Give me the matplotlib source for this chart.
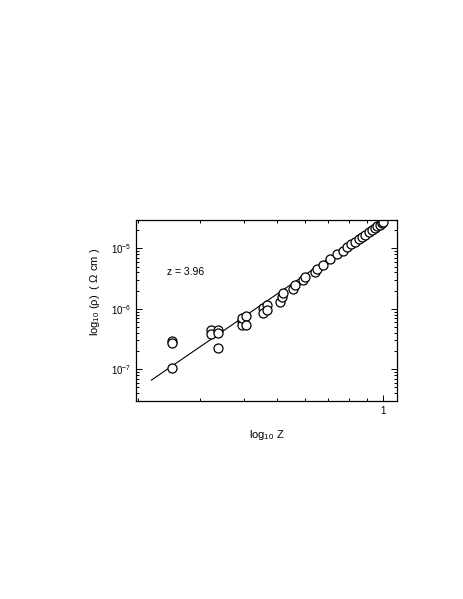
import numpy as np
import matplotlib
matplotlib.use("Agg")
import matplotlib.pyplot as plt
from matplotlib.ticker import LogLocator, FixedLocator, NullFormatter, FixedFormatter

plt.rcParams['font.family'] = ['Liberation Sans', 'DejaVu Sans']
plt.rcParams['mathtext.default'] = 'regular'

# data
z_vals = [0.25, 0.25, 0.25,
          0.323, 0.323, 0.338, 0.338, 0.338,
          0.395, 0.395, 0.397, 0.407, 0.407,
          0.456, 0.456, 0.468, 0.468,
          0.509, 0.514, 0.518,
          0.555, 0.562,
          0.593, 0.600,
          0.641, 0.648,
          0.676, 0.707, 0.739,
          0.772, 0.792, 0.813, 0.835, 0.854, 0.873, 0.892, 0.912,
          0.932, 0.949, 0.965, 0.982, 0.997, 1.0]
rho_vals = [2.94e-7, 2.69e-7, 1.05e-7,
            4.47e-7, 3.84e-7, 4.47e-7, 4.04e-7, 2.25e-7,
            6.3e-7, 5.4e-7, 6.97e-7, 7.6e-7, 5.4e-7,
            1.02e-6, 8.4e-7, 1.16e-6, 9.5e-7,
            1.31e-6, 1.55e-6, 1.8e-6,
            2.1e-6, 2.47e-6,
            2.99e-6, 3.4e-6,
            4.11e-6, 4.5e-6,
            5.3e-6, 6.58e-6, 8.05e-6,
            9.13e-6, 1.04e-5, 1.16e-5, 1.29e-5, 1.41e-5, 1.54e-5, 1.68e-5, 1.84e-5,
            2.0e-5, 2.17e-5, 2.31e-5, 2.45e-5, 2.59e-5, 2.69e-5]

# fitted power law rho = A * Z^z
fit_exponent = 3.96
fit_prefactor = 10 ** -4.56
fit_range = [0.218, 1.0]

fig = plt.figure(figsize=(4.63, 5.99), dpi=100)
ax = fig.add_axes([0.2937, 0.331, 0.5637, 0.3017])

zf = np.linspace(fit_range[0], fit_range[1], 50)
ax.plot(zf, fit_prefactor * zf ** fit_exponent, color='black', lw=0.8)
ax.plot(z_vals, rho_vals, 'o', ms=6.5, mfc='white', mec='black', mew=0.9)

ax.set_xscale('log')
ax.set_yscale('log')
ax.set_xlim(0.197, 1.099)
ax.set_ylim(10 ** -7.52, 10 ** -4.532)

ax.xaxis.set_major_locator(FixedLocator([1.0]))
ax.xaxis.set_major_formatter(FixedFormatter(['1']))
ax.xaxis.set_minor_locator(FixedLocator([0.2, 0.3, 0.4, 0.5, 0.6, 0.7, 0.8, 0.9]))
ax.xaxis.set_minor_formatter(NullFormatter())

ax.yaxis.set_major_locator(FixedLocator([1e-7, 1e-6, 1e-5]))
ax.yaxis.set_major_formatter(FixedFormatter([r'$10^{-7}$', r'$10^{-6}$', r'$10^{-5}$']))
ax.yaxis.set_minor_locator(LogLocator(base=10, subs=np.arange(2, 10), numticks=20))
ax.yaxis.set_minor_formatter(NullFormatter())

ax.tick_params(which='both', direction='in', top=True, right=True, width=0.7, labelsize=7)
ax.tick_params(which='major', length=4)
ax.tick_params(which='minor', length=2.5)
for s in ax.spines.values():
    s.set_linewidth(0.9)

ax.text(0.241, 4.1e-6, 'z = 3.96', fontsize=7.5, ha='left', va='center')

ax.set_xlabel(r'log$_{10}$ Z', fontsize=8, labelpad=9)
ax.set_ylabel(r'log$_{10}$ ($\rho$)  ( $\Omega$ cm )', fontsize=8)
ax.yaxis.set_label_coords(-0.13, 0.6)

fig.savefig('out.png', dpi=100)
